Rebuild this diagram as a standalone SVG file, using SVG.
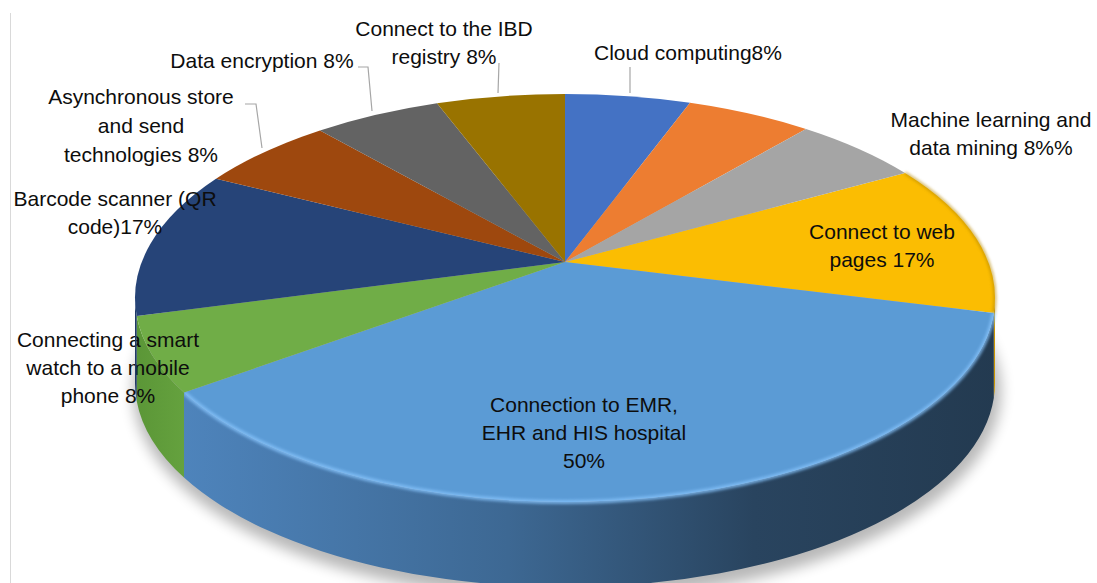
<svg xmlns="http://www.w3.org/2000/svg" width="1097" height="583" viewBox="0 0 1097 583">
<defs>
<style>
.lbl{font-family:"Liberation Sans",Arial,sans-serif;font-size:21px;fill:#0d0d0d;text-anchor:middle}
.lead{fill:none;stroke:#a6a6a6;stroke-width:1.2}
</style>
<linearGradient id="emrSide" gradientUnits="userSpaceOnUse" x1="180" y1="0" x2="1000" y2="0">
<stop offset="0" stop-color="#4e84bc"/>
<stop offset="0.4" stop-color="#3d6893"/>
<stop offset="0.7" stop-color="#29445f"/>
<stop offset="1" stop-color="#233a50"/>
</linearGradient>
<linearGradient id="greenSide" gradientUnits="userSpaceOnUse" x1="136" y1="0" x2="190" y2="0">
<stop offset="0" stop-color="#5b9637"/>
<stop offset="1" stop-color="#66a33f"/>
</linearGradient>
<filter id="blur6" x="-20%" y="-20%" width="140%" height="140%"><feGaussianBlur stdDeviation="7"/></filter>
<filter id="blur2" x="-10%" y="-10%" width="120%" height="120%"><feGaussianBlur stdDeviation="1.5"/></filter>
</defs>
<rect width="1097" height="583" fill="#ffffff"/>
<line x1="10.5" y1="13" x2="10.5" y2="583" stroke="#d9d9d9" stroke-width="1"/>
<ellipse cx="567" cy="391" rx="434" ry="208" fill="#000" opacity="0.28" filter="url(#blur6)"/>
<g id="slice-web">
<path d="M995,298 A430,204 0 0 1 993.8,313 L993.8,398 A430,204 0 0 0 995,383 Z" fill="#c99600"/>
<path d="M565,262 L905,173 A430,204 0 0 1 993.8,313 Z" fill="#fbbd02"/>
<path d="M905,173 A430,204 0 0 1 993.8,313" fill="none" stroke="#b58700" stroke-width="3" opacity="0.6" filter="url(#blur2)"/>
<text class="lbl" x="882" y="239">Connect to web</text>
<text class="lbl" x="882" y="267">pages 17%</text>
</g>
<g id="slice-emr">
<path d="M993.8,313 A430,204 0 0 1 184,392.6 L184,477.6 A430,204 0 0 0 993.8,398 Z" fill="url(#emrSide)"/>
<path d="M565,262 L993.8,313 A430,204 0 0 1 184,392.6 Z" fill="#5b9bd5"/>
<path d="M993.8,313 A430,204 0 0 1 184,392.6" fill="none" stroke="#86c3fb" stroke-width="4" opacity="0.8" filter="url(#blur2)"/>
<text class="lbl" x="584" y="412">Connection to EMR,</text>
<text class="lbl" x="584" y="440">EHR and HIS hospital</text>
<text class="lbl" x="584" y="468">50%</text>
</g>
<g id="slice-watch">
<path d="M184,392.6 A430,204 0 0 1 136.7,316 L136.7,401 A430,204 0 0 0 184,477.6 Z" fill="url(#greenSide)"/>
<path d="M565,262 L184,392.6 A430,204 0 0 1 136.7,316 Z" fill="#70ad47"/>
<text class="lbl" x="108" y="347">Connecting a smart</text>
<text class="lbl" x="108" y="375">watch to a mobile</text>
<text class="lbl" x="108" y="403">phone 8%</text>
</g>
<g id="slice-barcode">
<path d="M136.7,316 A430,204 0 0 1 135,298 L135,383 A430,204 0 0 0 136.7,401 Z" fill="#1f3a66"/>
<path d="M565,262 L136.7,316 A430,204 0 0 1 216,178.8 Z" fill="#264478"/>
<text class="lbl" x="115" y="206">Barcode scanner (QR</text>
<text class="lbl" x="115" y="234">code)17%</text>
</g>
<g id="slice-async">
<path d="M565,262 L216,178.8 A430,204 0 0 1 320,130.4 Z" fill="#9e480e"/>
<text class="lbl" x="141" y="104">Asynchronous store</text>
<text class="lbl" x="141" y="133">and send</text>
<text class="lbl" x="141" y="162">technologies 8%</text>
</g>
<g id="slice-encryption">
<path d="M565,262 L320,130.4 A430,204 0 0 1 437,103.2 Z" fill="#636363"/>
<text class="lbl" x="262" y="68">Data encryption 8%</text>
</g>
<g id="slice-ibd">
<path d="M565,262 L437,103.2 A430,204 0 0 1 565,94 Z" fill="#997300"/>
<text class="lbl" x="444" y="36">Connect to the IBD</text>
<text class="lbl" x="444" y="64">registry 8%</text>
</g>
<g id="slice-cloud">
<path d="M565,262 L565,94 A430,204 0 0 1 690,102.8 Z" fill="#4472c4"/>
<text class="lbl" x="688" y="60">Cloud computing8%</text>
</g>
<g id="slice-orange">
<path d="M565,262 L690,102.8 A430,204 0 0 1 806,129 Z" fill="#ed7d31"/>
</g>
<g id="slice-ml">
<path d="M565,262 L806,129 A430,204 0 0 1 905,173 Z" fill="#a5a5a5"/>
<text class="lbl" x="991" y="127">Machine learning and</text>
<text class="lbl" x="991" y="155">data mining 8%%</text>
</g>
<g id="connectors">
<path class="lead" d="M630,67 L630,93"/>
<path class="lead" d="M499,63 L498,93"/>
<path class="lead" d="M358,67 L368,67 L372,111"/>
<path class="lead" d="M245,104 L256,104 L262,148"/>
</g>
</svg>
